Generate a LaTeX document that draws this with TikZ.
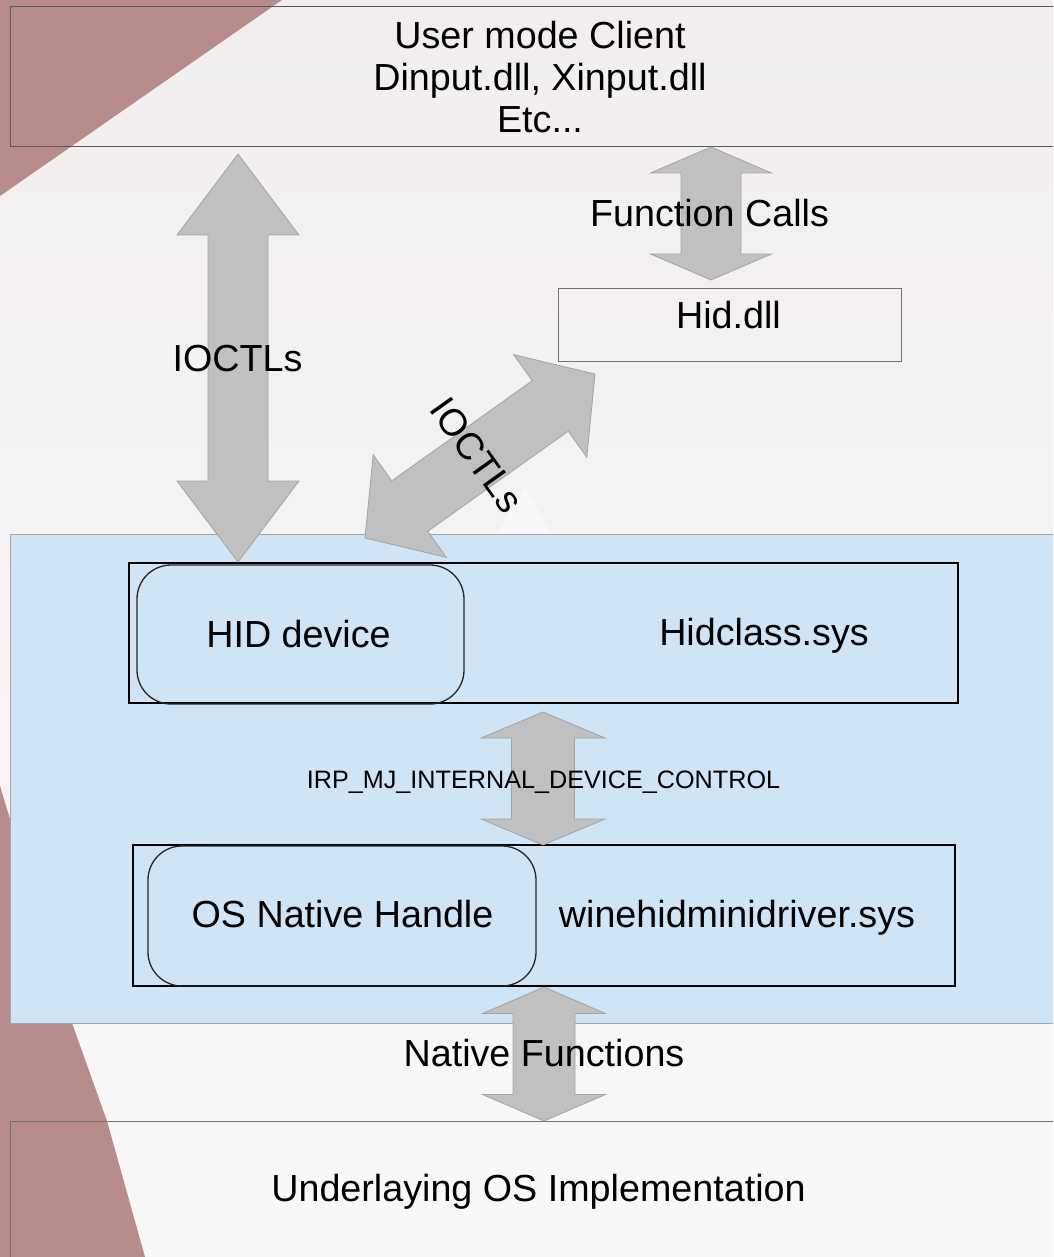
\documentclass[tikz,border=0pt]{standalone}
\usepackage{fontspec}
\setmainfont{Liberation Sans}
\usetikzlibrary{calc}

\definecolor{paper}{HTML}{F2EEEE}
\definecolor{paperlight}{HTML}{F9F8F8}
\definecolor{rust}{HTML}{B88B8D}
\definecolor{panelblue}{HTML}{CFE4F4}
\definecolor{arrowgrey}{HTML}{C0C0C0}
\definecolor{arrowedge}{HTML}{A4A4A4}
\definecolor{frame}{HTML}{5A5A5A}

\tikzset{
  lbl/.style={font=\fontsize{37.7}{42}\selectfont, inner sep=0pt, text=black},
  irplbl/.style={font=\fontsize{25.2}{28}\selectfont, inner sep=0pt, text=black},
  layerbox/.style={draw=frame, line width=1pt, inner sep=0pt},
  modbox/.style={draw=black, line width=1.3pt, inner sep=0pt},
  devbox/.style={draw=black!85, line width=1.3pt, rounded corners=34pt, inner sep=0pt},
  fatarrow/.style={fill=arrowgrey, draw=arrowedge, line width=0.8pt, line join=miter},
}

% double-headed block arrow between two tips:
% #1,#2 tips, #3 half shaft width, #4 half head width, #5 head length
\newcommand\fatdbl[5]{%
  \path[fatarrow] let \p1=(#1), \p2=(#2),
    \n1={atan2(\y2-\y1,\x2-\x1)} in
    (\p1)
    -- ($(\p1)+(\n1:#5pt)+({\n1+90}:#4pt)$)
    -- ($(\p1)+(\n1:#5pt)+({\n1+90}:#3pt)$)
    -- ($(\p2)+(\n1:-#5pt)+({\n1+90}:#3pt)$)
    -- ($(\p2)+(\n1:-#5pt)+({\n1+90}:#4pt)$)
    -- (\p2)
    -- ($(\p2)+(\n1:-#5pt)+({\n1-90}:#4pt)$)
    -- ($(\p2)+(\n1:-#5pt)+({\n1-90}:#3pt)$)
    -- ($(\p1)+(\n1:#5pt)+({\n1-90}:#3pt)$)
    -- ($(\p1)+(\n1:#5pt)+({\n1-90}:#4pt)$)
    -- cycle;
}

\begin{document}
\begin{tikzpicture}[x=1pt,y=-1pt]
\useasboundingbox (0,0) rectangle (1053,1257);
\clip (0,0) rectangle (1053,1257);

% backdrop
\shade[top color=paper, bottom color=paperlight] (0,0) rectangle (1053,1257);
\fill[rust] (0,0) -- (282,0) -- (0,196) -- cycle;
\fill[rust] (0,786) -- (72,1023) -- (107,1121) -- (145,1257) -- (0,1257) -- cycle;
\fill[white, opacity=0.45] (497,534) -- (525,488) -- (552,534) -- cycle;

% layers
\node[layerbox, lbl, align=center, minimum width=1060pt, minimum height=140pt]
  (client) at (540,77) {User mode Client\\Dinput.dll, Xinput.dll\\Etc...};
\node[layerbox, draw=black!55, minimum width=343pt, minimum height=73pt]
  (hiddll) at (729.5,324.5) {};
\node[layerbox, draw=black!35, fill=panelblue, minimum width=1060pt, minimum height=489pt]
  (panel) at (540,778.5) {};
\node[layerbox, draw=black!55, minimum width=1060pt, minimum height=159pt]
  (oslayer) at (540,1200.5) {};

% kernel drivers
\node[modbox, minimum width=829pt, minimum height=140pt] (hidclass) at (543.5,633) {};
\node[devbox, minimum width=327pt, minimum height=139pt] (hiddev) at (300.5,634.5) {};
\node[modbox, minimum width=822pt, minimum height=141pt] (winehid) at (544,915.5) {};
\node[devbox, minimum width=388pt, minimum height=140pt] (osnative) at (342,916) {};

% arrow end points
\coordinate (ioAtop) at (238,154);
\coordinate (ioAbot) at (238,562);
\coordinate (fcTop) at (711,147);
\coordinate (fcBot) at (711,280);
\coordinate (ioBlow) at (365,538);
\coordinate (ioBhigh) at (595,374);
\coordinate (irpTop) at (543,712);
\coordinate (irpBot) at (543,845);
\coordinate (natTop) at (544,987);
\coordinate (natBot) at (544,1121);

\fatdbl{ioAtop}{ioAbot}{30}{61}{81}
\fatdbl{fcTop}{fcBot}{30}{60.5}{26}
\fatdbl{ioBlow}{ioBhigh}{31}{63}{55}
\fatdbl{irpTop}{irpBot}{31.5}{62}{26}
\fatdbl{natTop}{natBot}{31}{61.5}{26.5}

% texts
\node[lbl, anchor=base] (hiddlltext) at (728.5,328) {Hid.dll};
\node[lbl, anchor=base] (hiddevtext) at (298.5,647.7) {HID device};
\node[lbl, anchor=base] (hidclasstext) at (764,645) {Hidclass.sys};
\node[lbl, anchor=base] (osnativetext) at (342.5,927) {OS Native Handle};
\node[lbl, anchor=base] (winehidtext) at (737,927) {winehidminidriver.sys};
\node[lbl, anchor=base] (ostext) at (538.5,1201.7) {Underlaying OS Implementation};

\node[lbl, anchor=base] (ioAtext) at (237.5,371) {IOCTLs};
\node[lbl, anchor=base] (fctext) at (709.5,226) {Function Calls};
\node[lbl, rotate=-54.5] (ioBtext) at (477,455) {IOCTLs};
\node[irplbl, anchor=base] (irptext) at (543.5,788.3) {IRP\_MJ\_INTERNAL\_DEVICE\_CONTROL};
\node[lbl, anchor=base] (nattext) at (544,1066) {Native Functions};
\end{tikzpicture}
\end{document}
